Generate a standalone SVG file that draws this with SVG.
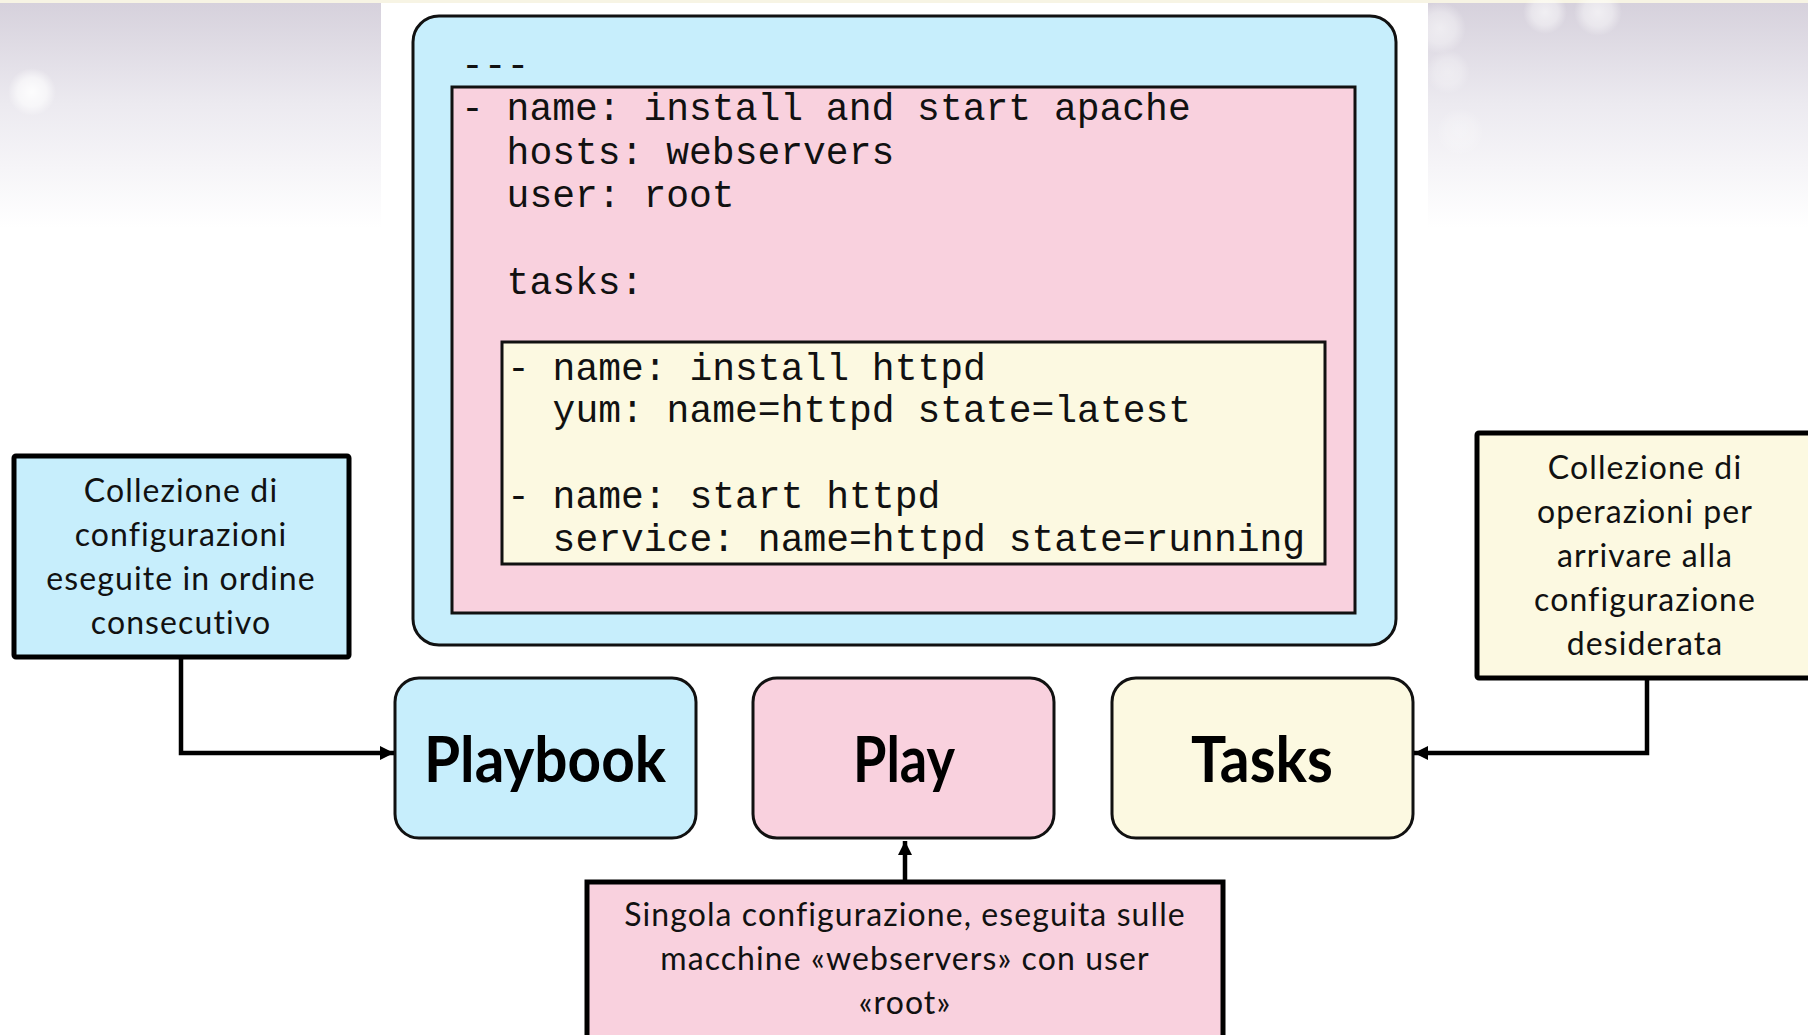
<svg xmlns="http://www.w3.org/2000/svg" width="1808" height="1035" viewBox="0 0 1808 1035">
<defs>
<linearGradient id="bgfade" x1="0" y1="0" x2="0" y2="1">
<stop offset="0" stop-color="#D6D1DC"/>
<stop offset="0.45" stop-color="#ECEAF0"/>
<stop offset="1" stop-color="#FFFFFF"/>
</linearGradient>
<radialGradient id="bokeh">
<stop offset="0" stop-color="#FFFFFF" stop-opacity="0.9"/>
<stop offset="0.6" stop-color="#FFFFFF" stop-opacity="0.6"/>
<stop offset="1" stop-color="#FFFFFF" stop-opacity="0"/>
</radialGradient>
<marker id="arr" viewBox="0 0 10 10" refX="10" refY="5" markerWidth="14" markerHeight="14" markerUnits="userSpaceOnUse" orient="auto">
<path d="M0,0 L10,5 L0,10 z" fill="#000"/>
</marker>
<style>
.code{font-family:"Liberation Mono","Courier New",monospace;font-size:38px;fill:#111}
.note{font-family:Lato,"Open Sans",sans-serif;font-size:32px;letter-spacing:1.1px;fill:#111;text-anchor:middle}
.big{font-family:Lato,"Open Sans",sans-serif;font-weight:bold;font-size:64px;fill:#000;text-anchor:middle}
.blue{fill:#C7EEFC}
.pink{fill:#F9D1DE}
.yellow{fill:#FCF9E1}
.edge{stroke:#111;stroke-width:3}
.noteedge{stroke:#000;stroke-width:5}
.conn{fill:none;stroke:#000;stroke-width:4.5}
</style>
</defs>

<g id="background">
<rect x="0" y="0" width="1808" height="1035" fill="#FFFFFF"/>
<rect x="0" y="3" width="381" height="225" fill="url(#bgfade)"/>
<rect x="1428" y="3" width="380" height="225" fill="url(#bgfade)"/>
<rect x="0" y="0" width="1808" height="3" fill="#F7F4E4"/>
<circle cx="32" cy="92" r="24" fill="url(#bokeh)"/>
<circle cx="1440" cy="28" r="26" fill="url(#bokeh)" opacity="0.6"/>
<circle cx="1545" cy="12" r="22" fill="url(#bokeh)" opacity="0.7"/>
<circle cx="1598" cy="12" r="24" fill="url(#bokeh)" opacity="0.7"/>
<circle cx="1448" cy="72" r="22" fill="url(#bokeh)" opacity="0.4"/>
<circle cx="1460" cy="132" r="24" fill="url(#bokeh)" opacity="0.3"/>
</g>

<g id="playbook-code">
<rect x="413" y="16" width="983" height="629" rx="26" class="blue edge"/>
<text class="code" x="461" y="77">---</text>
</g>

<g id="play-code">
<rect x="452" y="87" width="903" height="526" class="pink edge"/>
<text class="code" x="461" y="120">- name: install and start apache</text>
<text class="code" x="506.6" y="163.5">hosts: webservers</text>
<text class="code" x="506.6" y="207">user: root</text>
<text class="code" x="506.6" y="294">tasks:</text>
</g>

<g id="tasks-code">
<rect x="502" y="342" width="823" height="222" class="yellow edge"/>
<text class="code" x="507" y="380">- name: install httpd</text>
<text class="code" x="552.6" y="422">yum: name=httpd state=latest</text>
<text class="code" x="507" y="508">- name: start httpd</text>
<text class="code" x="552.6" y="551">service: name=httpd state=running</text>
</g>

<g id="note-playbook">
<rect x="14" y="456" width="335" height="201" rx="2" class="blue noteedge"/>
<text class="note" x="181" y="502">Collezione di</text>
<text class="note" x="181" y="546">configurazioni</text>
<text class="note" x="181" y="590">eseguite in ordine</text>
<text class="note" x="181" y="634">consecutivo</text>
</g>

<g id="note-tasks">
<rect x="1477" y="433" width="340" height="245" rx="2" class="yellow noteedge"/>
<text class="note" x="1645" y="479">Collezione di</text>
<text class="note" x="1645" y="523">operazioni per</text>
<text class="note" x="1645" y="567">arrivare alla</text>
<text class="note" x="1645" y="611">configurazione</text>
<text class="note" x="1645" y="655">desiderata</text>
</g>

<g id="note-play">
<rect x="587" y="882" width="636" height="160" class="pink noteedge"/>
<text class="note" x="905" y="926">Singola configurazione, eseguita sulle</text>
<text class="note" x="905" y="970">macchine «webservers» con user</text>
<text class="note" x="905" y="1014">«root»</text>
</g>

<g id="node-playbook">
<rect x="395" y="678" width="301" height="160" rx="24" class="blue edge"/>
<text class="big" x="545" y="782" textLength="242" lengthAdjust="spacingAndGlyphs">Playbook</text>
</g>

<g id="node-play">
<rect x="753" y="678" width="301" height="160" rx="24" class="pink edge"/>
<text class="big" x="904" y="782" textLength="102" lengthAdjust="spacingAndGlyphs">Play</text>
</g>

<g id="node-tasks">
<rect x="1112" y="678" width="301" height="160" rx="24" class="yellow edge"/>
<text class="big" x="1262" y="782" textLength="142" lengthAdjust="spacingAndGlyphs">Tasks</text>
</g>

<g id="connectors">
<path class="conn" d="M181,659 V753 H394" marker-end="url(#arr)"/>
<path class="conn" d="M1647,680 V753 H1414" marker-end="url(#arr)"/>
<path class="conn" d="M905,880 V841" marker-end="url(#arr)"/>
</g>
</svg>
